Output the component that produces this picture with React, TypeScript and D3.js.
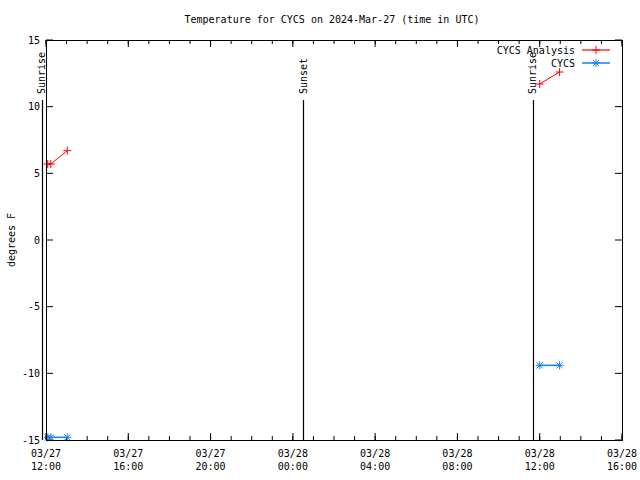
import React from "react";
import * as d3 from "d3";

const title = "Temperature for CYCS on 2024-Mar-27 (time in UTC)";
const yLabel = "degrees F";

const t = (d: number, h: number, m: number) => new Date(Date.UTC(2024, 2, d, h, m));

const analysisTimes = [t(27, 12, 5), t(27, 12, 14), t(27, 13, 2), t(28, 12, 0), t(28, 12, 58)];
const analysisValues = [5.7, 5.7, 6.7, 11.7, 12.6];
const analysisGroups = [0, 0, 0, 1, 1];

const obsTimes = [t(27, 12, 5), t(27, 12, 14), t(27, 13, 2), t(28, 12, 0), t(28, 12, 58)];
const obsValues = [-14.8, -14.8, -14.8, -9.4, -9.4];
const obsGroups = [0, 0, 0, 1, 1];

const eventNames = ["Sunrise", "Sunset", "Sunrise"];
const eventTimes = [t(27, 11, 47), t(28, 0, 31), t(28, 11, 40)];
const eventTop = 10.5;

const yTicks = [-15, -10, -5, 0, 5, 10, 15];
const legendNames = ["CYCS Analysis", "CYCS"];

const RED = "#ff0000";
const BLUE = "#1a80f0";
const FONT = "DejaVu Sans Mono, monospace";

export default function App() {
  const W = 640, H = 480;
  const L = 46, R = 622, T = 40, B = 440;
  const x = d3.scaleUtc().domain([t(27, 12, 0), t(28, 16, 0)]).range([L, R]);
  const y = d3.scaleLinear().domain([-15, 15]).range([B, T]);
  const majors = x.ticks(d3.utcHour.every(4)!);
  const minors = x.ticks(d3.utcHour.every(1)!);
  const fmtD = d3.utcFormat("%m/%d");
  const fmtH = d3.utcFormat("%H:%M");

  const plus = (cx: number, cy: number, c: string, k: string) => (
    <path key={k} d={`M${cx - 4},${cy}H${cx + 4}M${cx},${cy - 4}V${cy + 4}`} stroke={c} strokeWidth={1} />
  );
  const star = (cx: number, cy: number, c: string, k: string) => (
    <path key={k} d={`M${cx - 4},${cy}H${cx + 4}M${cx},${cy - 4}V${cy + 4}M${cx - 3},${cy - 3}L${cx + 3},${cy + 3}M${cx - 3},${cy + 3}L${cx + 3},${cy - 3}`} stroke={c} strokeWidth={1} />
  );

  const line = d3.line<[number, number]>().x((d) => d[0]).y((d) => d[1]);
  const groupPaths = (times: Date[], vals: number[], groups: number[]) => {
    const gs = Array.from(new Set(groups));
    return gs.map((g) =>
      line(times.map((tt, i) => [x(tt), y(vals[i])] as [number, number]).filter((_, i) => groups[i] === g))
    );
  };

  return (
    <svg width={W} height={H} style={{ position: "absolute", left: 0, top: 0, background: "#fff" }} fontFamily={FONT} fontSize={10}>
      <rect width={W} height={H} fill="#fff" />
      <text x={W / 2 + 12} y={23} textAnchor="middle">{title}</text>
      <text transform={`translate(15,${(T + B) / 2}) rotate(-90)`} textAnchor="middle">{yLabel}</text>

      {minors.map((d, i) => (
        <g key={"mi" + i}>
          <line x1={x(d)} x2={x(d)} y1={B} y2={B - 4} stroke="#000" />
          <line x1={x(d)} x2={x(d)} y1={T} y2={T + 4} stroke="#000" />
        </g>
      ))}
      {majors.map((d, i) => (
        <g key={"ma" + i}>
          <line x1={x(d)} x2={x(d)} y1={B} y2={B - 7} stroke="#000" />
          <line x1={x(d)} x2={x(d)} y1={T} y2={T + 7} stroke="#000" />
          <text x={x(d)} y={457} textAnchor="middle">{fmtD(d)}</text>
          <text x={x(d)} y={470} textAnchor="middle">{fmtH(d)}</text>
        </g>
      ))}
      {yTicks.map((v) => (
        <g key={"y" + v}>
          <line x1={L} x2={L + 7} y1={y(v)} y2={y(v)} stroke="#000" />
          <line x1={R} x2={R - 7} y1={y(v)} y2={y(v)} stroke="#000" />
          <text x={40} y={y(v)} dy="0.35em" textAnchor="end">{v}</text>
        </g>
      ))}

      {eventTimes.map((d, i) => (
        <g key={"ev" + i}>
          <line x1={Math.round(x(d)) + 0.5} x2={Math.round(x(d)) + 0.5} y1={y(eventTop)} y2={B} stroke="#000" strokeWidth={1.2} />
          <text transform={`translate(${x(d)},${y(eventTop) - 6}) rotate(-90)`} dy="0.35em" textAnchor="start">{eventNames[i]}</text>
        </g>
      ))}

      {groupPaths(analysisTimes, analysisValues, analysisGroups).map((p, i) => (
        <path key={"ap" + i} d={p || ""} fill="none" stroke={RED} strokeWidth={1} />
      ))}
      {analysisTimes.map((d, i) => plus(x(d), y(analysisValues[i]), RED, "am" + i))}
      {groupPaths(obsTimes, obsValues, obsGroups).map((p, i) => (
        <path key={"op" + i} d={p || ""} fill="none" stroke={BLUE} strokeWidth={1.5} />
      ))}
      {obsTimes.map((d, i) => star(x(d), y(obsValues[i]), BLUE, "om" + i))}

      <rect x={L + 0.5} y={T + 0.5} width={R - L} height={B - T} fill="none" stroke="#000" />

      <text x={575} y={50} dy="0.35em" textAnchor="end">{legendNames[0]}</text>
      <line x1={582} x2={610} y1={50} y2={50} stroke={RED} strokeWidth={1.2} />
      {plus(596, 50, RED, "lg0")}
      <text x={575} y={63} dy="0.35em" textAnchor="end">{legendNames[1]}</text>
      <line x1={582} x2={610} y1={63} y2={63} stroke={BLUE} strokeWidth={1.5} />
      {star(596, 63, BLUE, "lg1")}
    </svg>
  );
}
